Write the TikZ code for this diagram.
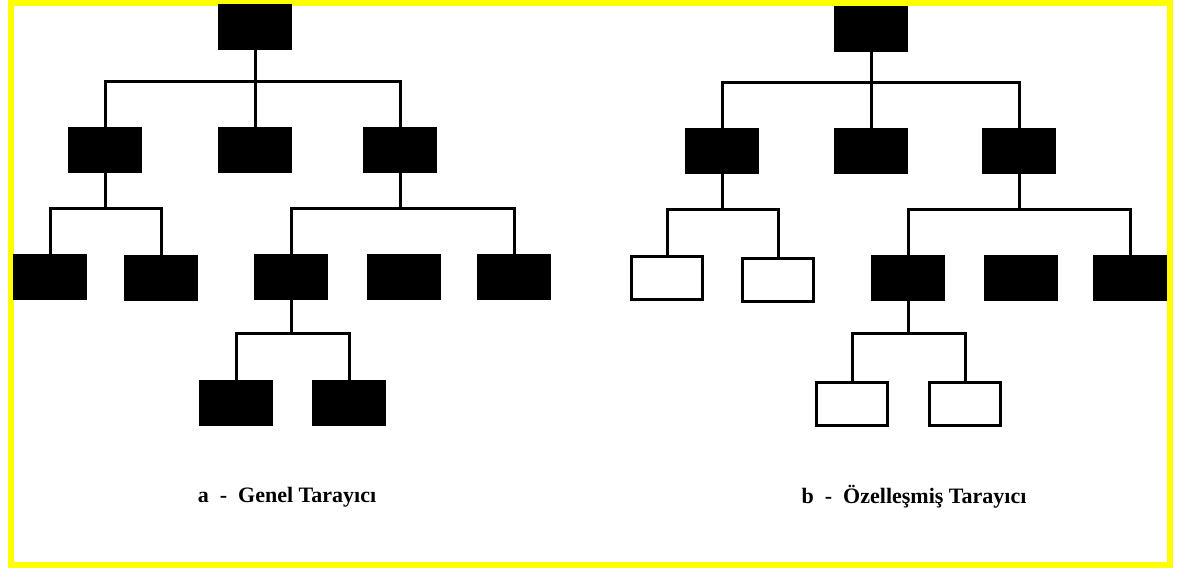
\documentclass[tikz,border=0pt]{standalone}
\usepackage{fontspec}
\setmainfont{Liberation Serif}
\definecolor{framey}{RGB}{255,255,0}
\tikzset{
  fullbox/.style={rectangle, fill=black, inner sep=0pt, minimum width=74pt, minimum height=46pt},
  emptybox/.style={rectangle, draw=black, fill=white, line width=3pt, inner sep=0pt, minimum width=71pt, minimum height=43pt},
  link/.style={draw=black, line width=3pt, line join=miter},
  caption/.style={font=\fontsize{22}{26}\selectfont\bfseries, inner sep=0pt}
}
\begin{document}
\begin{tikzpicture}[x=1pt,y=-1pt]
\useasboundingbox (0,0) rectangle (1186,570);
\fill[white] (0,0) rectangle (1186,570);
% outer frame
\draw[framey, line width=6pt] (11,2.5) rectangle (1170,564.5);

% ---- tree a: general crawler ----
\node[fullbox] (aR)  at (255,27) {};
\node[fullbox] (aA)  at (105,150) {};
\node[fullbox] (aB)  at (255,150) {};
\node[fullbox] (aC)  at (400,150) {};
\node[fullbox] (aA1) at (50,277) {};
\node[fullbox] (aA2) at (161,278) {};
\node[fullbox] (aC1) at (291,277) {};
\node[fullbox] (aC2) at (404,277) {};
\node[fullbox] (aC3) at (514,277) {};
\node[fullbox] (aD1) at (236,403) {};
\node[fullbox] (aD2) at (349,403) {};
\coordinate (aJ0) at (255,81);
\coordinate (aJ1) at (105,208);
\coordinate (aJ2) at (400,208);
\coordinate (aJ3) at (291,333);
\draw[link] (aR.south) -- (aJ0);
\draw[link] (aA.north) |- (aJ0) -| (aC.north);
\draw[link] (aJ0) -- (aB.north);
\draw[link] (aA.south) -- (aJ1);
\draw[link] (aA1.north) |- (aJ1) -| (aA2.north);
\draw[link] (aC.south) -- (aJ2);
\draw[link] (aC1.north) |- (aJ2) -| (aC3.north);
\draw[link] (aC1.south) -- (aJ3);
\draw[link] (aD1.north) |- (aJ3) -| (aD2.north);
\node[caption] (capA) at (287,497) {a\ \ -\ \ Genel Tarayıcı};

% ---- tree b: focused crawler ----
\node[fullbox]  (bR)  at (871,29) {};
\node[fullbox]  (bA)  at (722,151) {};
\node[fullbox]  (bB)  at (871,151) {};
\node[fullbox]  (bC)  at (1019,151) {};
\node[emptybox] (bA1) at (667,278) {};
\node[emptybox] (bA2) at (778,280) {};
\node[fullbox]  (bC1) at (908,278) {};
\node[fullbox]  (bC2) at (1021,278) {};
\node[fullbox]  (bC3) at (1130,278) {};
\node[emptybox] (bD1) at (852,404) {};
\node[emptybox] (bD2) at (965,404) {};
\coordinate (bJ0) at (871,82);
\coordinate (bJ1) at (722,209);
\coordinate (bJ2) at (1019,209);
\coordinate (bJ3) at (908,333);
\draw[link] (bR.south) -- (bJ0);
\draw[link] (bA.north) |- (bJ0) -| (bC.north);
\draw[link] (bJ0) -- (bB.north);
\draw[link] (bA.south) -- (bJ1);
\draw[link] (bA1.north) |- (bJ1) -| (bA2.north);
\draw[link] (bC.south) -- (bJ2);
\draw[link] (bC1.north) |- (bJ2) -| (bC3.north);
\draw[link] (bC1.south) -- (bJ3);
\draw[link] (bD1.north) |- (bJ3) -| (bD2.north);
\node[caption] (capB) at (914,497) {b\ \ -\ \ Özelleşmiş Tarayıcı};
\end{tikzpicture}
\end{document}
